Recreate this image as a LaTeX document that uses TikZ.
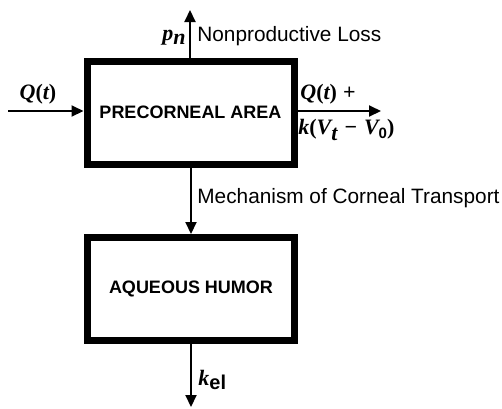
\documentclass[tikz,border=0pt]{standalone}
\usepackage{fontspec}
\setmainfont{Liberation Sans}
\newfontfamily\mathser{Liberation Serif}
\usetikzlibrary{arrows.meta}
\newcommand{\mi}[1]{{\mathser\bfseries\itshape #1}}
\newcommand{\mr}[1]{{\mathser\bfseries #1}}
\begin{document}
\begin{tikzpicture}[x=0.5pt,y=-0.5pt,
  blockbox/.style={draw,line width=3.5pt,minimum width=103.5pt,minimum height=51.5pt,inner sep=0pt,
     font=\fontsize{9}{11}\selectfont\bfseries},
  flow/.style={line width=1pt,-{Triangle[length=6pt,width=5.5pt]}},
  lbl/.style={inner sep=0pt,font=\fontsize{10.4}{12}\selectfont},
  mlbl/.style={inner sep=0pt,font=\fontsize{11}{13}\selectfont}]
\useasboundingbox (0,0) rectangle (502,408);
\node[blockbox] (pa) at (190.5,112.5) {PRECORNEAL AREA};
\node[blockbox] (ah) at (191,289) {AQUEOUS HUMOR};
\coordinate (top) at (190,10);
\coordinate (in) at (8,111);
\coordinate (out) at (381,111);
\coordinate (bot) at (191,407);
\draw[flow] (pa.north -| top) -- (top);
\draw[flow] (in) -- (in -| pa.west);
\draw[flow] (out -| pa.east) -- (out);
\draw[flow] (pa.south -| ah.north) -- (ah.north);
\draw[flow] (ah.south) -- (bot);
\node[mlbl,anchor=east] (pn) at (186,38) {\mi{p}\raisebox{-0.35ex}{\mi{n}}};
\node[lbl,anchor=west] (nl) at (197,36) {Nonproductive Loss};
\node[mlbl] (qin) at (38,94) {\mi{Q}\mr{(}\mi{t}\mr{)}};
\node[mlbl,anchor=west] (qout) at (300,94) {\mi{Q}\mr{(}\mi{t}\mr{)} \mr{+}};
\node[mlbl,anchor=west] (kv) at (298,130) {\mi{k}\mr{(}\mi{V}\raisebox{-0.5ex}{\mi{t}}\hspace{3.5pt}\mr{−}\hspace{3.5pt}\mi{V}\raisebox{-0.3ex}{\fontsize{7.5}{8}\selectfont\bfseries 0}\mr{)}};
\node[lbl,anchor=west] (mc) at (197,198) {Mechanism of Corneal Transport};
\node[mlbl,anchor=west] (kel) at (198,380) {\mi{k}\raisebox{-0.3ex}{\fontsize{10}{12}\selectfont\bfseries el}};
\end{tikzpicture}
\end{document}
